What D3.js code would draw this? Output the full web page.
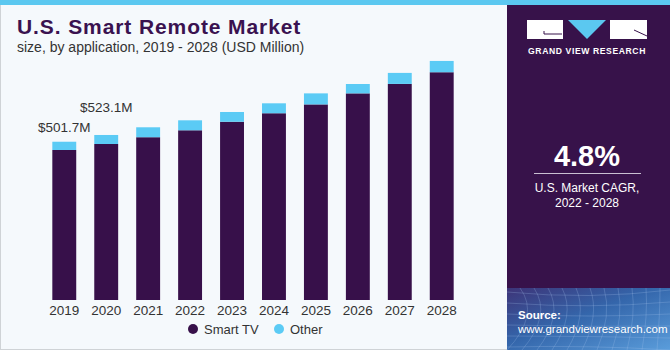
<!DOCTYPE html>
<html>
<head>
<meta charset="utf-8">
<script src="https://cdn.jsdelivr.net/npm/d3@7"></script>
<style>
  body { margin: 0; background: #fff; }
  svg { display: block; font-family: "Liberation Sans", Arial, sans-serif; }
</style>
</head>
<body>
<svg id="chart" width="670" height="350"></svg>
<script>
// data (USD million)
const years = ["2019", "2020", "2021", "2022", "2023", "2024", "2025", "2026", "2027", "2028"];
const smartTV = [475.5, 494.5, 516, 538, 565, 592, 620, 655, 685, 722];
const other = [26.2, 28.6, 31.5, 31.6, 31, 31.5, 35, 29.7, 34.9, 35.8];
const topLabels = ["$501.7M", "$523.1M"];
const seriesNames = ["Smart TV", "Other"];
const colors = ["#37104a", "#5bcbf5"];

const svg = d3.select("#chart");

// background + frame
svg.append("rect").attr("width", 670).attr("height", 350).attr("fill", "#f5f9fc");
svg.append("rect").attr("x", 0.5).attr("y", 0.5).attr("width", 669).attr("height", 349)
  .attr("fill", "none").attr("stroke", "#cfd3d6");
svg.append("rect").attr("width", 670).attr("height", 5).attr("fill", "#5bc8f0");

// right panel
const panel = svg.append("g");
panel.append("rect").attr("x", 507).attr("y", 5).attr("width", 163).attr("height", 345).attr("fill", "#37124a");

const defs = svg.append("defs");
const grad = defs.append("linearGradient").attr("id", "srcGrad")
  .attr("x1", 0).attr("y1", 0).attr("x2", 1).attr("y2", 1);
grad.append("stop").attr("offset", "0%").attr("stop-color", "#3d3478");
grad.append("stop").attr("offset", "45%").attr("stop-color", "#3466ab");
grad.append("stop").attr("offset", "100%").attr("stop-color", "#5a9ddb");
panel.append("rect").attr("x", 507).attr("y", 288).attr("width", 163).attr("height", 62).attr("fill", "url(#srcGrad)");
// faint grid lines in source box
const gridG = panel.append("g").attr("stroke", "#a7c6ee").attr("stroke-opacity", 0.35).attr("stroke-width", 0.7).attr("fill", "none");
for (let i = 0; i < 12; i++) {
  gridG.append("path").attr("d", `M${507 + i * 15},350 Q${540 + i * 12},315 ${520 + i * 14},288`);
}
for (let j = 0; j < 6; j++) {
  gridG.append("path").attr("d", `M507,${292 + j * 11} Q590,${300 + j * 9} 670,${290 + j * 12}`);
}

// logo
panel.append("rect").attr("x", 527).attr("y", 20).attr("width", 36).attr("height", 19).attr("fill", "#fff");
panel.append("path").attr("d", "M544,31 L544,34 L562,34").attr("stroke", "#37124a").attr("stroke-width", 1).attr("fill", "none");
panel.append("path").attr("d", "M568,20 L606,20 L587,39 Z").attr("fill", "#5bc8f0");
panel.append("rect").attr("x", 610).attr("y", 20).attr("width", 37).attr("height", 19).attr("fill", "#fff");
panel.append("path").attr("d", "M634,30 L647,36").attr("stroke", "#37124a").attr("stroke-width", 1);
panel.append("text").attr("x", 587).attr("y", 54).attr("text-anchor", "middle")
  .attr("fill", "#fff").attr("font-size", 8.6).attr("font-weight", "bold").attr("letter-spacing", 0.6)
  .text("GRAND VIEW RESEARCH");

panel.append("text").attr("x", 587).attr("y", 166).attr("text-anchor", "middle")
  .attr("fill", "#fff").attr("font-size", 29).attr("font-weight", "bold").text("4.8%");
panel.append("line").attr("x1", 534).attr("x2", 641).attr("y1", 173.5).attr("y2", 173.5)
  .attr("stroke", "#c9bfd2").attr("stroke-width", 1);
panel.append("text").attr("x", 587).attr("y", 192).attr("text-anchor", "middle")
  .attr("fill", "#fff").attr("font-size", 12).text("U.S. Market CAGR,");
panel.append("text").attr("x", 587).attr("y", 207).attr("text-anchor", "middle")
  .attr("fill", "#fff").attr("font-size", 12).text("2022 - 2028");

panel.append("text").attr("x", 518).attr("y", 319).attr("fill", "#fff")
  .attr("font-size", 11.5).attr("font-weight", "bold").text("Source:");
panel.append("text").attr("x", 518).attr("y", 333).attr("fill", "#fff")
  .attr("font-size", 11.5).text("www.grandviewresearch.com");

// titles
svg.append("text").attr("x", 17).attr("y", 34).attr("fill", "#3a1250")
  .attr("font-size", 21).attr("font-weight", "900").attr("letter-spacing", 0.9)
  .text("U.S. Smart Remote Market");
svg.append("text").attr("x", 17).attr("y", 52).attr("fill", "#333")
  .attr("font-size", 14).text("size, by application, 2019 - 2028 (USD Million)");

// scales
const x = d3.scaleBand().domain(years).range([41, 465]).paddingInner(0.43).paddingOuter(0.27);
const y = d3.scaleLinear().domain([0, 800]).range([300, 300 - 800 / 3.17]);

const stackData = years.map((yr, i) => ({ year: yr, "Smart TV": smartTV[i], "Other": other[i] }));
const series = d3.stack().keys(seriesNames)(stackData);

svg.append("g").selectAll("g")
  .data(series)
  .join("g")
  .attr("fill", (d, i) => colors[i])
  .selectAll("rect")
  .data(d => d)
  .join("rect")
  .attr("x", d => x(d.data.year))
  .attr("y", d => y(d[1]))
  .attr("width", x.bandwidth())
  .attr("height", d => y(d[0]) - y(d[1]));

// x axis labels
const xAxis = svg.append("g")
  .attr("transform", "translate(0,300)")
  .call(d3.axisBottom(x).tickSize(0).tickPadding(5));
xAxis.select(".domain").remove();
xAxis.selectAll("text").attr("font-size", 13.5).attr("fill", "#333")
  .attr("font-family", "Liberation Sans, Arial, sans-serif");

// value labels on first two bars
topLabels.forEach((lab, i) => {
  const total = smartTV[i] + other[i];
  svg.append("text")
    .attr("x", x(years[i]) + x.bandwidth() / 2)
    .attr("y", y(total) - (i === 0 ? 10 : 23))
    .attr("text-anchor", "middle")
    .attr("fill", "#333").attr("font-size", 13.5)
    .text(lab);
});

// legend
const legend = svg.append("g");
const legendX = [193, 279];
seriesNames.forEach((name, i) => {
  legend.append("circle").attr("cx", legendX[i]).attr("cy", 329).attr("r", 5).attr("fill", colors[i]);
  legend.append("text").attr("x", legendX[i] + 11).attr("y", 333.5)
    .attr("fill", "#333").attr("font-size", 13).text(name);
});
</script>
</body>
</html>
